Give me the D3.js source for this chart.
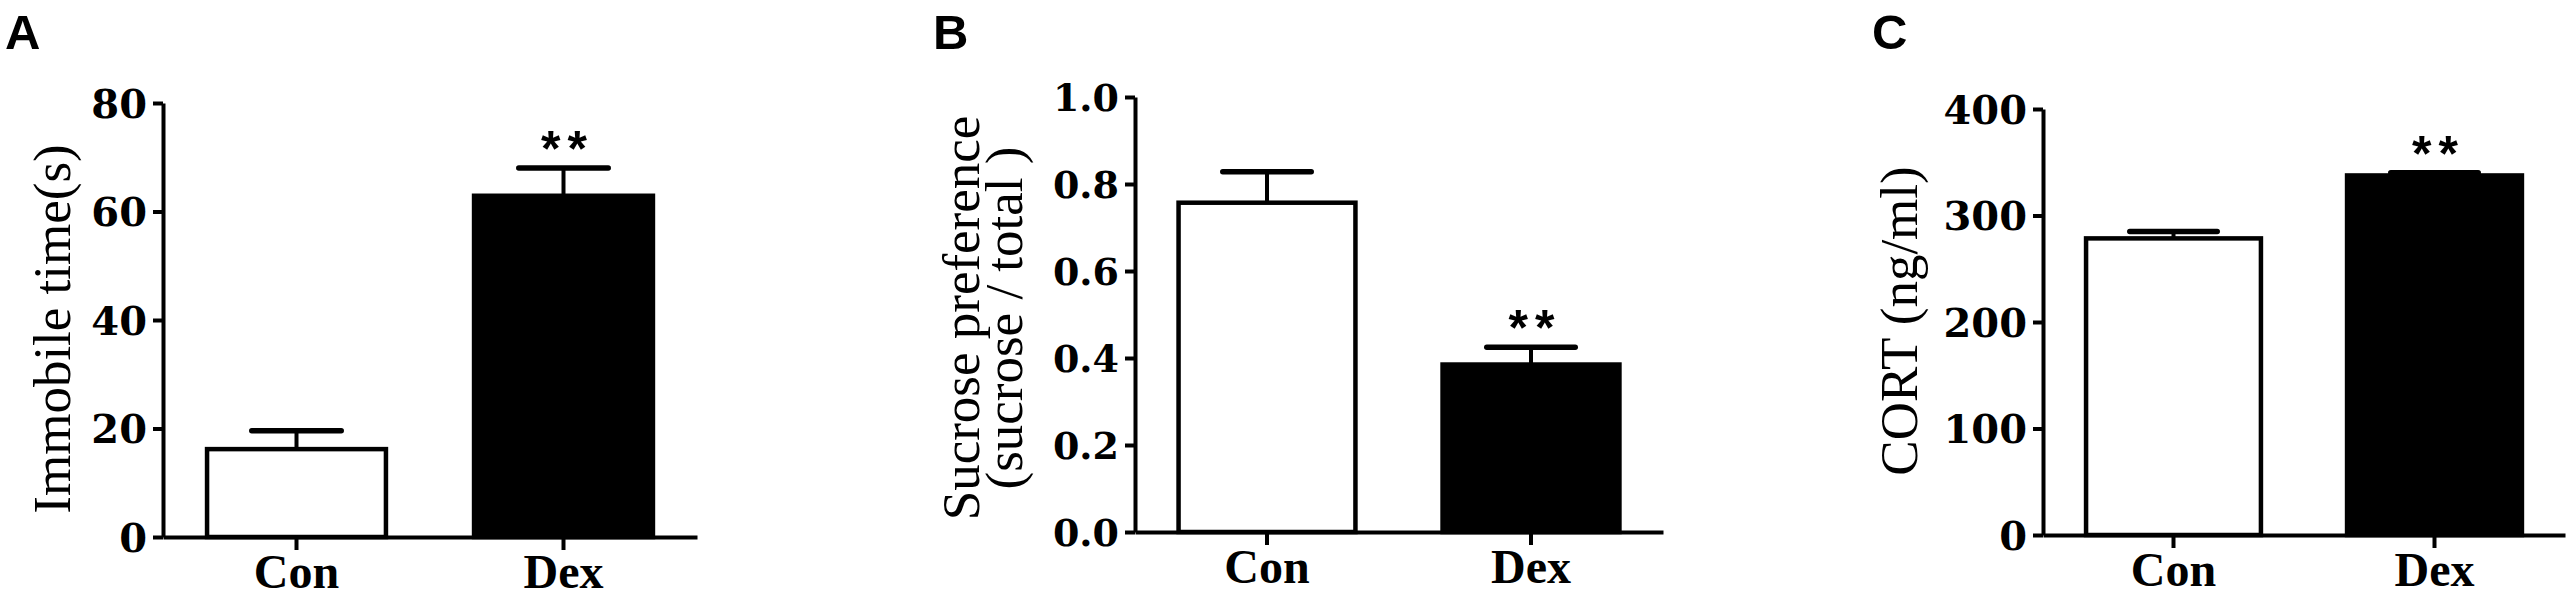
<!DOCTYPE html>
<html>
<head>
<meta charset="utf-8">
<title>Con vs Dex</title>
<script src="https://cdn.jsdelivr.net/npm/d3@7"></script>
<style>
  html, body { margin: 0; padding: 0; background: #fff; }
  svg text { fill: #000; }
</style>
</head>
<body>
<div id="chart"></div>
<script>
// groups on the x axis
const groups = ["Con", "Dex"];
const stars = ["", "**"];

// A: forced swim immobile time (s), mean and SEM
const immobileMean = [16.2, 62.9];
const immobileSem = [3.4, 5.1];
const immobileTicks = [0, 20, 40, 60, 80];

// B: sucrose preference
const sucroseMean = [0.757, 0.385];
const sucroseSem = [0.071, 0.040];
const sucroseTicks = [0, 0.2, 0.4, 0.6, 0.8, 1.0];

// C: serum CORT (ng/ml)
const cortMean = [278.5, 337.6];
const cortSem = [6.5, 2.5];
const cortTicks = [0, 100, 200, 300, 400];

const W = 2575, H = 599;

const panels = [
  { letter: "A", letterX: 5, left: 163, right: 697, top: 103, bottom: 537,
    mean: immobileMean, sem: immobileSem, ticks: immobileTicks, fmt: d3.format("d"),
    tickFont: 40, label: ["Immobile time(s)"], labelX: 70, labelY: 329 },
  { letter: "B", letterX: 933, left: 1135, right: 1663, top: 97, bottom: 532,
    mean: sucroseMean, sem: sucroseSem, ticks: sucroseTicks, fmt: d3.format(".1f"),
    tickFont: 38, label: ["Sucrose preference", "(sucrose / total )"], labelX: 979, labelY: 318 },
  { letter: "C", letterX: 1872, left: 2043, right: 2565, top: 109, bottom: 535,
    mean: cortMean, sem: cortSem, ticks: cortTicks, fmt: d3.format("d"),
    tickFont: 40, label: ["CORT (ng/ml)"], labelX: 1917, labelY: 321 }
];

const svg = d3.select("#chart").append("svg")
    .attr("width", W)
    .attr("height", H);

panels.forEach(p => {
  const g = svg.append("g");

  const x = d3.scaleBand()
      .domain(groups)
      .range([p.left, p.right])
      .paddingInner(0.33)
      .paddingOuter(0.165);

  const y = d3.scaleLinear()
      .domain([0, d3.max(p.ticks)])
      .range([p.bottom, p.top]);

  const rows = groups.map((k, i) => ({ k, m: p.mean[i], e: p.sem[i], star: stars[i], i }));
  const bw = x.bandwidth();

  // error bars (upper half only), under the bars
  g.selectAll(".stem").data(rows).enter().append("line")
      .attr("x1", d => x(d.k) + bw / 2).attr("x2", d => x(d.k) + bw / 2)
      .attr("y1", d => y(d.m)).attr("y2", d => y(d.m + d.e))
      .attr("stroke", "#000").attr("stroke-width", 4);
  g.selectAll(".cap").data(rows).enter().append("line")
      .attr("x1", d => x(d.k) + bw / 4).attr("x2", d => x(d.k) + bw * 3 / 4)
      .attr("y1", d => y(d.m + d.e)).attr("y2", d => y(d.m + d.e))
      .attr("stroke", "#000").attr("stroke-width", 5.5)
      .attr("stroke-linecap", "round");

  // bars
  g.selectAll(".bar").data(rows).enter().append("rect")
      .attr("x", d => x(d.k))
      .attr("y", d => y(d.m))
      .attr("width", bw)
      .attr("height", d => y(0) - y(d.m))
      .attr("fill", d => d.i === 0 ? "#fff" : "#000")
      .attr("stroke", "#000")
      .attr("stroke-width", 4.5);

  // significance marks
  g.selectAll(".star").data(rows.filter(d => d.star)).enter().append("text")
      .attr("x", d => x(d.k) + bw / 2 + 4)
      .attr("y", d => y(d.m + d.e) - 2)
      .attr("text-anchor", "middle")
      .style("font-family", "'Liberation Sans', Arial, sans-serif")
      .style("font-weight", "bold")
      .style("font-size", "50px")
      .style("letter-spacing", "7px")
      .text(d => d.star);

  // y axis
  const ya = g.append("g")
      .attr("transform", `translate(${p.left},0)`)
      .call(d3.axisLeft(y).tickValues(p.ticks).tickFormat(p.fmt)
        .tickSize(10).tickSizeOuter(0).tickPadding(6));
  ya.selectAll("text")
      .attr("dy", "0.36em")
      .style("font-family", "'DejaVu Serif', serif")
      .style("font-weight", "bold")
      .style("font-size", p.tickFont + "px");

  // x axis
  const xa = g.append("g")
      .attr("transform", `translate(0,${p.bottom})`)
      .call(d3.axisBottom(x).tickSize(13).tickSizeOuter(0).tickPadding(4));
  xa.selectAll("text")
      .style("font-family", "'Liberation Serif', 'Times New Roman', serif")
      .style("font-weight", "bold")
      .style("font-size", "48px");

  [ya, xa].forEach(a => {
    a.select(".domain").attr("stroke-width", 4);
    a.selectAll(".tick line").attr("stroke-width", 4);
  });

  // y axis title, one or two lines
  const lab = g.append("text")
      .attr("transform", `translate(${p.labelX},${p.labelY}) rotate(-90)`)
      .attr("text-anchor", "middle")
      .style("font-family", "'Liberation Serif', 'Times New Roman', serif")
      .style("font-size", "53px");
  lab.selectAll("tspan").data(p.label).enter().append("tspan")
      .attr("x", 0)
      .attr("y", (d, i) => i * 43)
      .text(d => d);

  // panel letter
  g.append("text")
      .attr("x", p.letterX)
      .attr("y", 49)
      .style("font-family", "'Liberation Sans', Arial, sans-serif")
      .style("font-weight", "bold")
      .style("font-size", "49px")
      .text(p.letter);
});
</script>
</body>
</html>
